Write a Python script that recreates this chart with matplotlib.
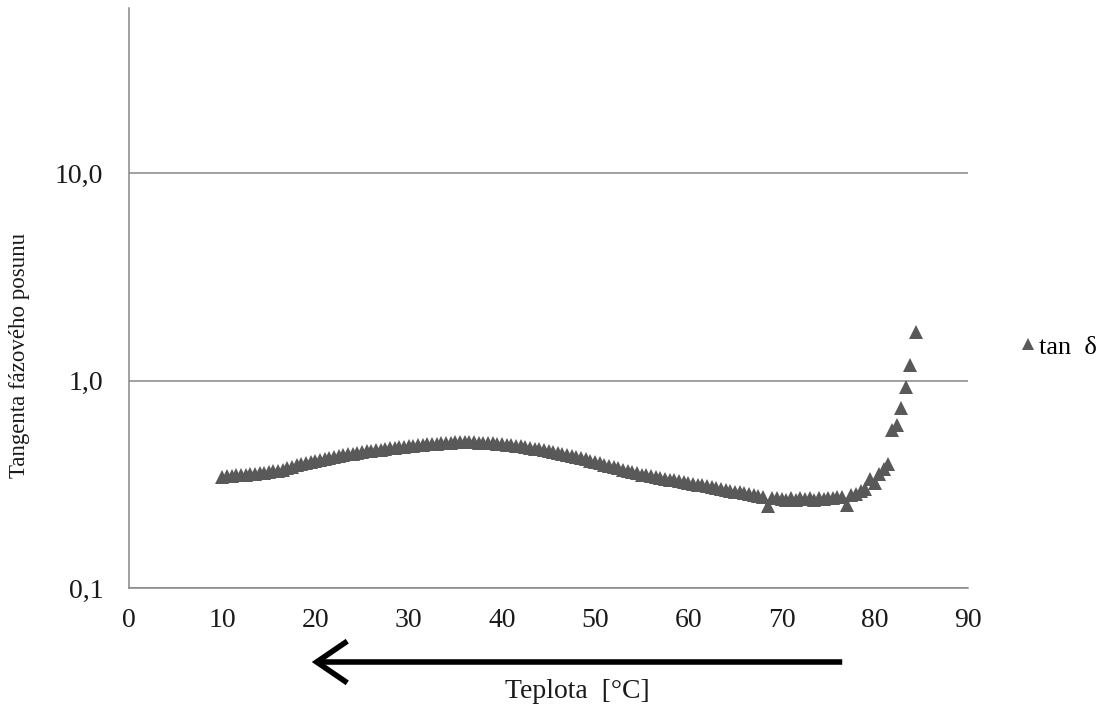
import matplotlib
matplotlib.use("Agg")
import matplotlib.pyplot as plt
from matplotlib.patches import FancyArrowPatch

plt.rcParams['font.family'] = ['Liberation Serif', 'DejaVu Serif']

# Temperature [°C] and loss tangent measured on cooling
temperature = [
    10.0, 10.5, 11.0, 11.5, 12.0, 12.5, 13.0, 13.5, 14.0, 14.5,
    15.0, 15.5, 16.0, 16.5, 17.0, 17.5, 18.0, 18.5, 19.0, 19.5,
    20.0, 20.5, 21.0, 21.5, 22.0, 22.5, 23.0, 23.5, 24.0, 24.5,
    25.0, 25.5, 26.0, 26.5, 27.0, 27.5, 28.0, 28.5, 29.0, 29.5,
    30.0, 30.5, 31.0, 31.5, 32.0, 32.5, 33.0, 33.5, 34.0, 34.5,
    35.0, 35.5, 36.0, 36.5, 37.0, 37.5, 38.0, 38.5, 39.0, 39.5,
    40.0, 40.5, 41.0, 41.5, 42.0, 42.5, 43.0, 43.5, 44.0, 44.5,
    45.0, 45.5, 46.0, 46.5, 47.0, 47.5, 48.0, 48.5, 49.0, 49.5,
    50.0, 50.5, 51.0, 51.5, 52.0, 52.5, 53.0, 53.5, 54.0, 54.5,
    55.0, 55.5, 56.0, 56.5, 57.0, 57.5, 58.0, 58.5, 59.0, 59.5,
    60.0, 60.5, 61.0, 61.5, 62.0, 62.5, 63.0, 63.5, 64.0, 64.5,
    65.0, 65.5, 66.0, 66.5, 67.0, 67.5, 68.0, 68.5, 69.0, 69.5,
    70.0, 70.5, 71.0, 71.5, 72.0, 72.5, 73.0, 73.5, 74.0, 74.5,
    75.0, 75.5, 76.0, 76.5, 77.0, 77.5, 78.0, 78.5, 79.0, 79.5,
    80.0, 80.5, 81.0, 81.4, 81.9, 82.4, 82.8, 83.3, 83.8, 84.4,
]

tan_delta = [
    0.343, 0.347, 0.346, 0.350, 0.351, 0.352, 0.355, 0.356, 0.358, 0.360,
    0.362, 0.365, 0.368, 0.372, 0.378, 0.384, 0.390, 0.396, 0.402, 0.406,
    0.410, 0.415, 0.420, 0.424, 0.428, 0.432, 0.436, 0.440, 0.444, 0.448,
    0.451, 0.455, 0.458, 0.461, 0.464, 0.468, 0.471, 0.474, 0.477, 0.480,
    0.483, 0.486, 0.488, 0.491, 0.493, 0.495, 0.497, 0.499, 0.500, 0.502,
    0.503, 0.504, 0.504, 0.503, 0.503, 0.502, 0.501, 0.500, 0.498, 0.497,
    0.494, 0.491, 0.488, 0.485, 0.481, 0.478, 0.474, 0.470, 0.466, 0.462,
    0.457, 0.452, 0.447, 0.442, 0.437, 0.432, 0.428, 0.424, 0.418, 0.411,
    0.404, 0.399, 0.393, 0.388, 0.383, 0.377, 0.372, 0.367, 0.362, 0.357,
    0.352, 0.349, 0.345, 0.342, 0.339, 0.336, 0.333, 0.330, 0.327, 0.324,
    0.321, 0.318, 0.315, 0.312, 0.310, 0.307, 0.304, 0.301, 0.298, 0.295,
    0.291, 0.289, 0.286, 0.284, 0.281, 0.279, 0.276, 0.248, 0.272, 0.270,
    0.268, 0.266, 0.270, 0.266, 0.272, 0.267, 0.270, 0.266, 0.271, 0.268,
    0.272, 0.270, 0.274, 0.276, 0.252, 0.280, 0.285, 0.292, 0.300, 0.335,
    0.320, 0.355, 0.375, 0.395, 0.580, 0.610, 0.740, 0.930, 1.190, 1.720,
]

x_ticks = [0, 10, 20, 30, 40, 50, 60, 70, 80, 90]
y_ticks = [0.1, 1.0, 10.0]
y_tick_labels = ["0,1", "1,0", "10,0"]

W, H = 1113, 708
fig = plt.figure(figsize=(W / 100, H / 100), dpi=100)
ax = fig.add_axes([129 / W, 1 - 588 / H, 839 / W, 580 / H])

grey = '#868686'
mark = '#595959'
ink = '#1a1a1a'

ax.plot(temperature, tan_delta, linestyle='none', marker='^',
        markersize=10.5, color=mark, markeredgewidth=0, label='tan  δ')

ax.set_yscale('log')
ax.set_xlim(0, 90)
ax.set_ylim(0.1, 10 ** (1 + 165 / 207.5))
ax.set_xticks(x_ticks)
ax.set_xticklabels([str(t) for t in x_ticks])
ax.set_yticks(y_ticks)
ax.set_yticklabels(y_tick_labels)
ax.yaxis.set_minor_locator(matplotlib.ticker.NullLocator())
ax.tick_params(axis='both', length=0, labelsize=20, colors=ink)
ax.tick_params(axis='y', pad=18.5)
ax.tick_params(axis='x', pad=14.5)

ax.grid(True, axis='y', which='major', color=grey, linewidth=1.1)
ax.set_axisbelow(True)
for side in ('top', 'right'):
    ax.spines[side].set_visible(False)
for side in ('left', 'bottom'):
    ax.spines[side].set_color(grey)
    ax.spines[side].set_linewidth(1.1)

fig.text(20 / W, 1 - 355 / H, 'Tangenta fázového posunu', rotation=90,
         ha='center', va='center', fontsize=16.5, color=ink)
fig.text(577 / W, 1 - 691 / H, 'Teplota  [°C]', ha='center', va='center',
         fontsize=20, color=ink)

# cooling direction arrow
arrow = FancyArrowPatch((845 / W, 1 - 662 / H), (309 / W, 1 - 662 / H),
                        transform=fig.transFigure,
                        arrowstyle='->,head_length=22,head_width=15',
                        mutation_scale=1, linewidth=4, color='black',
                        joinstyle='miter', capstyle='butt')
fig.add_artist(arrow)

ax.legend(loc='center left', bbox_to_anchor=(1021 / W, 1 - 347 / H),
          bbox_transform=fig.transFigure, frameon=False, fontsize=19,
          handlelength=0.5, handletextpad=0.2, borderaxespad=0,
          borderpad=0, markerscale=0.85)

fig.savefig('out.png', dpi=100)
